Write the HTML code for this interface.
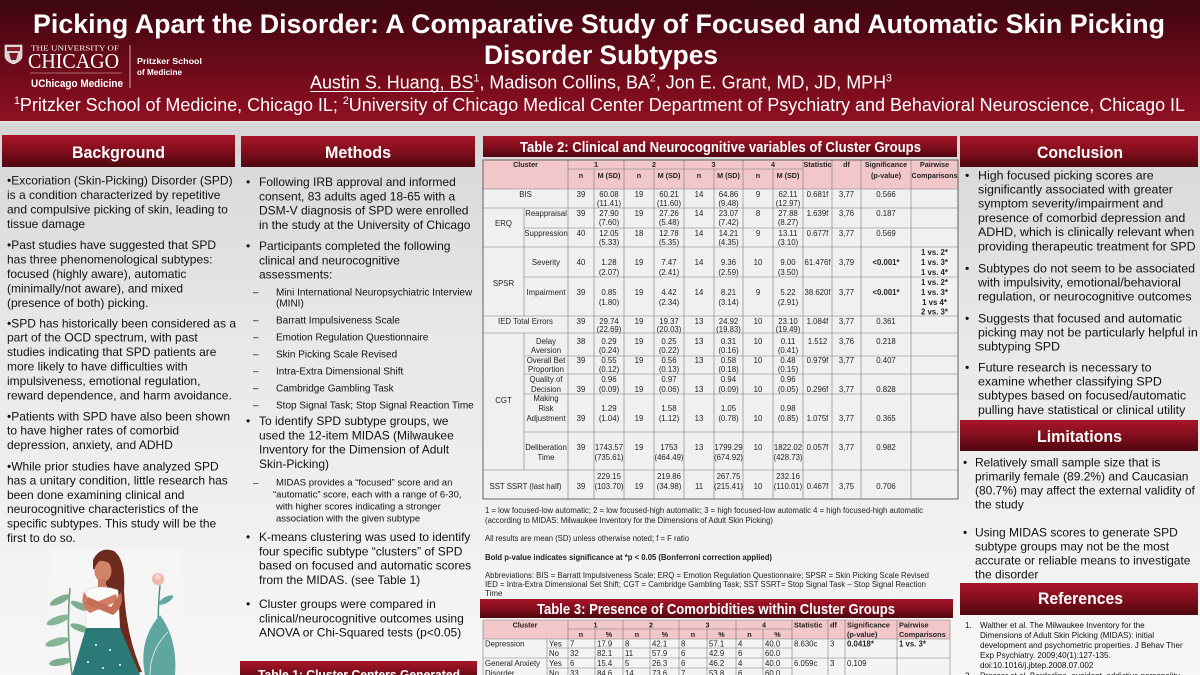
<!DOCTYPE html>
<html><head><meta charset="utf-8"><style>
html,body{margin:0;padding:0;background:#eee;}
svg{display:block;}
text{font-family:"Liberation Sans",Arial,Helvetica,sans-serif;}
.w{fill:#fff;font-weight:bold;}
.b{fill:#111;}
.tc{font-size:7.8px;text-anchor:middle;fill:#222;}
.th{font-size:7.2px;text-anchor:middle;fill:#222;font-weight:bold;}
.tl{font-size:7.8px;fill:#222;}
.h3{font-size:7.3px;fill:#222;font-weight:bold;}
.bo{font-weight:bold;}
.ln{stroke:#7a7a7a;stroke-width:0.6;}
</style></head><body>
<svg width="1200" height="675" viewBox="0 0 1200 675" xmlns="http://www.w3.org/2000/svg">
<defs>
<linearGradient id="hd" x1="0" y1="0" x2="0" y2="1"><stop offset="0" stop-color="#3c0610"/><stop offset="0.55" stop-color="#6c0a19"/><stop offset="1" stop-color="#8f1022"/></linearGradient>
<linearGradient id="bg" x1="0" y1="0" x2="0" y2="1"><stop offset="0" stop-color="#d6d6d6"/><stop offset="0.4" stop-color="#e8e8e8"/><stop offset="1" stop-color="#f7f7f7"/></linearGradient>
<linearGradient id="bar" x1="0" y1="0" x2="0" y2="1"><stop offset="0" stop-color="#a81628"/><stop offset="0.5" stop-color="#820e1d"/><stop offset="1" stop-color="#4e0710"/></linearGradient>
</defs>

<!-- backgrounds -->
<rect x="0" y="121" width="1200" height="554" fill="url(#bg)"/>
<rect x="0" y="0" width="1200" height="121" fill="url(#hd)"/>
<rect x="0" y="121" width="1200" height="2" fill="#e6dcdc"/>

<!-- header text -->
<text x="33" y="33" font-size="27" class="w" textLength="1132" lengthAdjust="spacingAndGlyphs">Picking Apart the Disorder: A Comparative Study of Focused and Automatic Skin Picking</text>
<text x="484" y="64" font-size="27" class="w" textLength="234" lengthAdjust="spacingAndGlyphs">Disorder Subtypes</text>
<text x="310" y="88.5" font-size="18.5" fill="#fff" textLength="582" lengthAdjust="spacingAndGlyphs">Austin S. Huang, BS<tspan font-size="11" dy="-7">1</tspan><tspan dy="7">, Madison Collins, BA</tspan><tspan font-size="11" dy="-7">2</tspan><tspan dy="7">, Jon E. Grant, MD, JD, MPH</tspan><tspan font-size="11" dy="-7">3</tspan></text>
<line x1="310" y1="91.5" x2="474" y2="91.5" stroke="#fff" stroke-width="1"/>
<text x="14" y="111" font-size="18.5" fill="#fff" textLength="1171" lengthAdjust="spacingAndGlyphs"><tspan font-size="11" dy="-7">1</tspan><tspan dy="7">Pritzker School of Medicine, Chicago IL; </tspan><tspan font-size="11" dy="-7">2</tspan><tspan dy="7">University of Chicago Medical Center Department of Psychiatry and Behavioral Neuroscience, Chicago IL</tspan></text>

<!-- logo -->
<path d="M5,45 L22,45 L22,56 Q22,61 13.5,64 Q5,61 5,56 Z" fill="#d9d2d2" stroke="#fff" stroke-width="0.6"/>
<rect x="7" y="47" width="13" height="4" fill="#8b1a28"/>
<path d="M9,53 L18,53 L16,60 L11,60 Z" fill="#7a1522"/>
<text x="31" y="50.5" font-size="7.5" fill="#fff" style="font-family:'Liberation Serif',serif" textLength="88" lengthAdjust="spacingAndGlyphs">THE UNIVERSITY OF</text>
<text x="28" y="68" font-size="21" fill="#fff" style="font-family:'Liberation Serif',serif" textLength="91" lengthAdjust="spacingAndGlyphs">CHICAGO</text>
<line x1="30" y1="73" x2="122" y2="73" stroke="#e8c8c8" stroke-width="0.5"/>
<text x="31" y="87" font-size="11" class="w" textLength="92" lengthAdjust="spacingAndGlyphs">UChicago Medicine</text>
<line x1="130" y1="45" x2="130" y2="88" stroke="#f0d8d8" stroke-width="0.8"/>
<text x="137" y="64" font-size="8.5" class="w" textLength="65" lengthAdjust="spacingAndGlyphs">Pritzker School</text>
<text x="137" y="75" font-size="8.5" class="w" textLength="45" lengthAdjust="spacingAndGlyphs">of Medicine</text>

<!-- section bars -->
<rect x="2" y="135" width="233" height="32" fill="url(#bar)"/>
<text x="72" y="158" font-size="17" class="w" textLength="93" lengthAdjust="spacingAndGlyphs">Background</text>
<rect x="241" y="136" width="234" height="31" fill="url(#bar)"/>
<text x="325" y="158" font-size="17" class="w" textLength="66" lengthAdjust="spacingAndGlyphs">Methods</text>
<rect x="960" y="136" width="238" height="31" fill="url(#bar)"/>
<text x="1037" y="158" font-size="17" class="w" textLength="86" lengthAdjust="spacingAndGlyphs">Conclusion</text>
<rect x="960" y="420" width="238" height="31" fill="url(#bar)"/>
<text x="1037" y="442" font-size="17" class="w" textLength="85" lengthAdjust="spacingAndGlyphs">Limitations</text>
<rect x="960" y="583" width="238" height="32" fill="url(#bar)"/>
<text x="1038" y="604" font-size="17" class="w" textLength="85" lengthAdjust="spacingAndGlyphs">References</text>
<rect x="240" y="661" width="237" height="20" fill="url(#bar)"/>
<text x="258" y="679" font-size="13" class="w" textLength="202" lengthAdjust="spacingAndGlyphs">Table 1: Cluster Centers Generated</text>
<rect x="483" y="136" width="474" height="21" fill="url(#bar)"/>
<text x="520" y="152" font-size="14.5" class="w" textLength="401" lengthAdjust="spacingAndGlyphs">Table 2: Clinical and Neurocognitive variables of Cluster Groups</text>
<rect x="480" y="599" width="473" height="19" fill="url(#bar)"/>
<text x="537" y="614" font-size="15" class="w" textLength="358" lengthAdjust="spacingAndGlyphs">Table 3: Presence of Comorbidities within Cluster Groups</text>

<!-- Background text -->
<g font-size="12" class="b">
<text y="184.3"><tspan x="7">•Excoriation (Skin-Picking) Disorder (SPD)</tspan><tspan x="7" dy="14.5">is a condition characterized by repetitive</tspan><tspan x="7" dy="14.5">and compulsive picking of skin, leading to</tspan><tspan x="7" dy="14.5">tissue damage</tspan></text>
<text y="248.8"><tspan x="7">•Past studies have suggested that SPD</tspan><tspan x="7" dy="14.5">has three phenomenological subtypes:</tspan><tspan x="7" dy="14.5">focused (highly aware), automatic</tspan><tspan x="7" dy="14.5">(minimally/not aware), and mixed</tspan><tspan x="7" dy="14.5">(presence of both) picking.</tspan></text>
<text y="327.3"><tspan x="7">•SPD has historically been considered as a</tspan><tspan x="7" dy="14.4">part of the OCD spectrum, with past</tspan><tspan x="7" dy="14.4">studies indicating that SPD patients are</tspan><tspan x="7" dy="14.4">more likely to have difficulties with</tspan><tspan x="7" dy="14.4">impulsiveness, emotional regulation,</tspan><tspan x="7" dy="14.4">reward dependence, and harm avoidance.</tspan></text>
<text y="420.3"><tspan x="7">•Patients with SPD have also been shown</tspan><tspan x="7" dy="14.3">to have higher rates of comorbid</tspan><tspan x="7" dy="14.3">depression, anxiety, and ADHD</tspan></text>
<text y="470.3"><tspan x="7">•While prior studies have analyzed SPD</tspan><tspan x="7" dy="14.3">has a unitary condition, little research has</tspan><tspan x="7" dy="14.3">been done examining clinical and</tspan><tspan x="7" dy="14.3">neurocognitive characteristics of the</tspan><tspan x="7" dy="14.3">specific subtypes. This study will be the</tspan><tspan x="7" dy="14.3">first to do so.</tspan></text>
</g>

<!-- illustration -->
<g>
<rect x="50" y="548" width="132" height="127" fill="#f5f5f5"/>
<path d="M72,675 Q66,630 70,588" stroke="#6f9f80" stroke-width="1.6" fill="none"/>
<ellipse cx="60" cy="600" rx="11" ry="3.6" transform="rotate(-25 60 600)" fill="#7fae8f"/>
<ellipse cx="80" cy="606" rx="10" ry="3.4" transform="rotate(25 80 606)" fill="#7fae8f"/>
<ellipse cx="58" cy="620" rx="12" ry="3.8" transform="rotate(-20 58 620)" fill="#86b595"/>
<ellipse cx="80" cy="628" rx="10" ry="3.4" transform="rotate(20 80 628)" fill="#7fae8f"/>
<ellipse cx="57" cy="642" rx="12" ry="3.8" transform="rotate(-15 57 642)" fill="#86b595"/>
<ellipse cx="60" cy="662" rx="11" ry="3.6" transform="rotate(-10 60 662)" fill="#7fae8f"/>
<path d="M160,675 Q156,630 160,585" stroke="#4a8f86" stroke-width="1.4" fill="none"/>
<circle cx="158" cy="579" r="6" fill="#f2b6aa"/>
<circle cx="158" cy="577" r="3" fill="#f7d3cb"/>
<ellipse cx="166" cy="600" rx="8" ry="3" transform="rotate(-30 166 600)" fill="#6aa7a0"/>
<path d="M145,675 Q138,640 160,615 Q178,640 175,675 Z" fill="#5fa6a1"/>
<path d="M150,675 Q150,650 168,632" stroke="#e8f2f0" stroke-width="0.8" fill="none"/>
<path d="M93,560 Q100,546 114,551 Q126,560 124,590 Q126,635 142,672 L126,675 Q114,640 112,605 Q108,580 93,568 Z" fill="#6e2a1c"/>
<ellipse cx="103" cy="571" rx="8.5" ry="11" fill="#d1836a"/>
<path d="M93,570 Q93,550 108,552 Q119,556 117,572 Q111,560 99,561 Z" fill="#6e2a1c"/>
<rect x="98" y="579" width="8" height="10" fill="#c97960"/>
<path d="M86,590 Q101,584 118,590 L120,630 L86,630 Z" fill="#fbfbfb" stroke="#cfcfcf" stroke-width="0.5"/>
<path d="M84,592 Q79,606 90,613 L118,601 L116,594 L92,604 Z" fill="#cf7c62"/>
<path d="M121,592 Q125,606 113,615 L86,604 L88,597 L111,607 Z" fill="#c46f56"/>
<path d="M86,628 L120,628 L140,675 L72,675 Z" fill="#2b7a77"/>
<circle cx="96" cy="645" r="1" fill="#fff"/><circle cx="110" cy="650" r="1" fill="#fff"/><circle cx="88" cy="662" r="1" fill="#fff"/><circle cx="120" cy="665" r="1" fill="#fff"/><circle cx="103" cy="668" r="1" fill="#fff"/>
</g>

<!-- Methods -->
<g font-size="12" class="b">
<text y="186"><tspan x="246">•</tspan><tspan x="259">Following IRB approval and informed</tspan><tspan x="259" dy="14.3">consent, 83 adults aged 18-65 with a</tspan><tspan x="259" dy="14.3">DSM-V diagnosis of SPD were enrolled</tspan><tspan x="259" dy="14.3">in the study at the University of Chicago</tspan></text>
<text y="250"><tspan x="246">•</tspan><tspan x="259">Participants completed the following</tspan><tspan x="259" dy="14.3">clinical and neurocognitive</tspan><tspan x="259" dy="14.3">assessments:</tspan></text>
<text y="425"><tspan x="246">•</tspan><tspan x="259">To identify SPD subtype groups, we</tspan><tspan x="259" dy="14.3">used the 12-item MIDAS (Milwaukee</tspan><tspan x="259" dy="14.3">Inventory for the Dimension of Adult</tspan><tspan x="259" dy="14.3">Skin-Picking)</tspan></text>
<text y="541"><tspan x="246">•</tspan><tspan x="259">K-means clustering was used to identify</tspan><tspan x="259" dy="14.3">four specific subtype “clusters” of SPD</tspan><tspan x="259" dy="14.3">based on focused and automatic scores</tspan><tspan x="259" dy="14.3">from the MIDAS. (see Table 1)</tspan></text>
<text y="608"><tspan x="246">•</tspan><tspan x="259">Cluster groups were compared in</tspan><tspan x="259" dy="14.3">clinical/neurocognitive outcomes using</tspan><tspan x="259" dy="14.3">ANOVA or Chi-Squared tests (p&lt;0.05)</tspan></text>
</g>
<g font-size="10" class="b">
<text y="295.5"><tspan x="253">–</tspan><tspan x="276">Mini International Neuropsychiatric Interview</tspan><tspan x="276" dy="11">(MINI)</tspan></text>
<text y="323.5"><tspan x="253">–</tspan><tspan x="276">Barratt Impulsiveness Scale</tspan></text>
<text y="340.5"><tspan x="253">–</tspan><tspan x="276">Emotion Regulation Questionnaire</tspan></text>
<text y="357.5"><tspan x="253">–</tspan><tspan x="276">Skin Picking Scale Revised</tspan></text>
<text y="374.5"><tspan x="253">–</tspan><tspan x="276">Intra-Extra Dimensional Shift</tspan></text>
<text y="391.5"><tspan x="253">–</tspan><tspan x="276">Cambridge Gambling Task</tspan></text>
<text y="408.5"><tspan x="253">–</tspan><tspan x="276">Stop Signal Task; Stop Signal Reaction Time</tspan></text>
</g>
<g font-size="9.5" class="b">
<text y="485.5"><tspan x="253">–</tspan><tspan x="276">MIDAS provides a “focused” score and an</tspan><tspan x="273" dy="12">“automatic” score, each with a range of 6-30,</tspan><tspan x="276" dy="12">with higher scores indicating a stronger</tspan><tspan x="276" dy="12">association with the given subtype</tspan></text>
</g>

<!-- Conclusion -->
<g font-size="12.4" class="b">
<text y="179.3"><tspan x="965">•</tspan><tspan x="978">High focused picking scores are</tspan><tspan x="978" dy="14.2">significantly associated with greater</tspan><tspan x="978" dy="14.2">symptom severity/impairment and</tspan><tspan x="978" dy="14.2">presence of comorbid depression and</tspan><tspan x="978" dy="14.2">ADHD, which is clinically relevant when</tspan><tspan x="978" dy="14.2">providing therapeutic treatment for SPD</tspan></text>
<text y="272.3"><tspan x="965">•</tspan><tspan x="978">Subtypes do not seem to be associated</tspan><tspan x="978" dy="14.2">with impulsivity, emotional/behavioral</tspan><tspan x="978" dy="14.2">regulation, or neurocognitive outcomes</tspan></text>
<text y="322.3"><tspan x="965">•</tspan><tspan x="978">Suggests that focused and automatic</tspan><tspan x="978" dy="14.2">picking may not be particularly helpful in</tspan><tspan x="978" dy="14.2">subtyping SPD</tspan></text>
<text y="371.3"><tspan x="965">•</tspan><tspan x="978">Future research is necessary to</tspan><tspan x="978" dy="14.2">examine whether classifying SPD</tspan><tspan x="978" dy="14.2">subtypes based on focused/automatic</tspan><tspan x="978" dy="14.2">pulling have statistical or clinical utility</tspan></text>
</g>

<!-- Limitations -->
<g font-size="12" class="b">
<text y="466.3"><tspan x="963">•</tspan><tspan x="975">Relatively small sample size that is</tspan><tspan x="975" dy="14">primarily female (89.2%) and Caucasian</tspan><tspan x="975" dy="14">(80.7%) may affect the external validity of</tspan><tspan x="975" dy="14">the study</tspan></text>
<text y="536.3"><tspan x="963">•</tspan><tspan x="975">Using MIDAS scores to generate SPD</tspan><tspan x="975" dy="14">subtype groups may not be the most</tspan><tspan x="975" dy="14">accurate or reliable means to investigate</tspan><tspan x="975" dy="14">the disorder</tspan></text>
</g>

<!-- References -->
<g font-size="8.1" class="b">
<text y="628"><tspan x="965">1.</tspan><tspan x="980">Walther et al. The Milwaukee Inventory for the</tspan><tspan x="980" dy="10">Dimensions of Adult Skin Picking (MIDAS): initial</tspan><tspan x="980" dy="10">development and psychometric properties. J Behav Ther</tspan><tspan x="980" dy="10">Exp Psychiatry. 2009;40(1):127-135.</tspan><tspan x="980" dy="10">doi:10.1016/j.jbtep.2008.07.002</tspan></text>
<text y="678.5"><tspan x="965">2.</tspan><tspan x="980">Prosser et al. Borderline, avoidant, addictive personality</tspan></text>
</g>

<!-- TABLE 2 -->
<rect x="483" y="160" width="475" height="29" fill="#f1c7ca"/>
<rect x="483" y="189" width="475" height="310" fill="#f0f0f0"/>
<g class="ln">
<line x1="568" y1="169" x2="803" y2="169"/>
<line x1="483" y1="189" x2="958" y2="189"/>
<line x1="483" y1="208" x2="958" y2="208"/>
<line x1="524" y1="228" x2="958" y2="228"/>
<line x1="483" y1="247" x2="958" y2="247"/>
<line x1="524" y1="277" x2="958" y2="277"/>
<line x1="483" y1="316" x2="958" y2="316"/>
<line x1="483" y1="333" x2="958" y2="333"/>
<line x1="524" y1="356" x2="958" y2="356"/>
<line x1="524" y1="374" x2="958" y2="374"/>
<line x1="524" y1="394" x2="958" y2="394"/>
<line x1="524" y1="432" x2="958" y2="432"/>
<line x1="483" y1="470" x2="958" y2="470"/>
<line x1="524" y1="208" x2="524" y2="316"/>
<line x1="524" y1="333" x2="524" y2="470"/>
<line x1="568" y1="160" x2="568" y2="499"/>
<line x1="594" y1="169" x2="594" y2="499"/>
<line x1="624" y1="160" x2="624" y2="499"/>
<line x1="654" y1="169" x2="654" y2="499"/>
<line x1="684" y1="160" x2="684" y2="499"/>
<line x1="714" y1="169" x2="714" y2="499"/>
<line x1="743" y1="160" x2="743" y2="499"/>
<line x1="773" y1="169" x2="773" y2="499"/>
<line x1="803" y1="160" x2="803" y2="499"/>
<line x1="832" y1="160" x2="832" y2="499"/>
<line x1="861" y1="160" x2="861" y2="499"/>
<line x1="911" y1="160" x2="911" y2="499"/>
</g>
<rect x="483" y="160" width="475" height="339" fill="none" stroke="#555" stroke-width="0.9"/>

<text class="th" x="525.5" y="167">Cluster</text>
<text class="th" x="596" y="167">1</text>
<text class="th" x="654" y="167">2</text>
<text class="th" x="713.5" y="167">3</text>
<text class="th" x="773" y="167">4</text>
<text class="th" x="817.5" y="167">Statistic</text>
<text class="th" x="846.5" y="167">df</text>
<text class="th" x="886" y="167">Significance</text>
<text class="th" x="934.5" y="167">Pairwise</text>
<text class="th" x="581" y="178">n</text><text class="th" x="609" y="178">M (SD)</text>
<text class="th" x="639" y="178">n</text><text class="th" x="669" y="178">M (SD)</text>
<text class="th" x="699" y="178">n</text><text class="th" x="728.5" y="178">M (SD)</text>
<text class="th" x="758" y="178">n</text><text class="th" x="788" y="178">M (SD)</text>
<text class="th" x="886" y="178">(p-value)</text>
<text class="th" x="934.5" y="178">Comparisons</text>

<g class="tc">
<text x="525.5" y="197">BIS</text>
<text x="581" y="197">39</text><text x="609" y="197">60.08</text><text x="609" y="206">(11.41)</text>
<text x="639" y="197">19</text><text x="669" y="197">60.21</text><text x="669" y="206">(11.60)</text>
<text x="699" y="197">14</text><text x="728.5" y="197">64.86</text><text x="728.5" y="206">(9.48)</text>
<text x="758" y="197">9</text><text x="788" y="197">62.11</text><text x="788" y="206">(12.97)</text>
<text x="817.5" y="197">0.681f</text><text x="846.5" y="197">3,77</text><text x="886" y="197">0.566</text>
<text x="503.5" y="226">ERQ</text>
<text x="546" y="216">Reappraisal</text>
<text x="581" y="216">39</text><text x="609" y="216">27.90</text><text x="609" y="225">(7.60)</text>
<text x="639" y="216">19</text><text x="669" y="216">27.26</text><text x="669" y="225">(5.48)</text>
<text x="699" y="216">14</text><text x="728.5" y="216">23.07</text><text x="728.5" y="225">(7.42)</text>
<text x="758" y="216">8</text><text x="788" y="216">27.88</text><text x="788" y="225">(8.27)</text>
<text x="817.5" y="216">1.639f</text><text x="846.5" y="216">3,76</text><text x="886" y="216">0.187</text>
<text x="546" y="236">Suppression</text>
<text x="581" y="236">40</text><text x="609" y="236">12.05</text><text x="609" y="245">(5.33)</text>
<text x="639" y="236">18</text><text x="669" y="236">12.78</text><text x="669" y="245">(5.35)</text>
<text x="699" y="236">14</text><text x="728.5" y="236">14.21</text><text x="728.5" y="245">(4.35)</text>
<text x="758" y="236">9</text><text x="788" y="236">13.11</text><text x="788" y="245">(3.10)</text>
<text x="817.5" y="236">0.677f</text><text x="846.5" y="236">3,77</text><text x="886" y="236">0.569</text>
<text x="503.5" y="286">SPSR</text>
<text x="546" y="265">Severity</text>
<text x="581" y="265">40</text><text x="609" y="265">1.28</text><text x="609" y="275">(2.07)</text>
<text x="639" y="265">19</text><text x="669" y="265">7.47</text><text x="669" y="275">(2.41)</text>
<text x="699" y="265">14</text><text x="728.5" y="265">9.36</text><text x="728.5" y="275">(2.59)</text>
<text x="758" y="265">10</text><text x="788" y="265">9.00</text><text x="788" y="275">(3.50)</text>
<text x="817.5" y="265">61.476f</text><text x="846.5" y="265">3,79</text><text x="886" y="265" class="bo">&lt;0.001*</text>
<text x="934.5" y="255" class="bo">1 vs. 2*</text><text x="934.5" y="265" class="bo">1 vs. 3*</text><text x="934.5" y="275" class="bo">1 vs. 4*</text>
<text x="546" y="295">Impairment</text>
<text x="581" y="295">39</text><text x="609" y="295">0.85</text><text x="609" y="305">(1.80)</text>
<text x="639" y="295">19</text><text x="669" y="295">4.42</text><text x="669" y="305">(2.34)</text>
<text x="699" y="295">14</text><text x="728.5" y="295">8.21</text><text x="728.5" y="305">(3.14)</text>
<text x="758" y="295">9</text><text x="788" y="295">5.22</text><text x="788" y="305">(2.91)</text>
<text x="817.5" y="295">38.620f</text><text x="846.5" y="295">3,77</text><text x="886" y="295" class="bo">&lt;0.001*</text>
<text x="934.5" y="285" class="bo">1 vs. 2*</text><text x="934.5" y="295" class="bo">1 vs. 3*</text><text x="934.5" y="305" class="bo">1 vs 4*</text><text x="934.5" y="314.5" class="bo">2 vs. 3*</text>
<text x="525.5" y="324">IED Total Errors</text>
<text x="581" y="324">39</text><text x="609" y="324">29.74</text><text x="609" y="332">(22.69)</text>
<text x="639" y="324">19</text><text x="669" y="324">19.37</text><text x="669" y="332">(20.03)</text>
<text x="699" y="324">13</text><text x="728.5" y="324">24.92</text><text x="728.5" y="332">(19.83)</text>
<text x="758" y="324">10</text><text x="788" y="324">23.10</text><text x="788" y="332">(19.49)</text>
<text x="817.5" y="324">1.084f</text><text x="846.5" y="324">3,77</text><text x="886" y="324">0.361</text>
<text x="503.5" y="403">CGT</text>
<text x="546" y="344">Delay</text><text x="546" y="353">Aversion</text>
<text x="581" y="344">38</text><text x="609" y="344">0.29</text><text x="609" y="353">(0.24)</text>
<text x="639" y="344">19</text><text x="669" y="344">0.25</text><text x="669" y="353">(0.22)</text>
<text x="699" y="344">13</text><text x="728.5" y="344">0.31</text><text x="728.5" y="353">(0.16)</text>
<text x="758" y="344">10</text><text x="788" y="344">0.11</text><text x="788" y="353">(0.41)</text>
<text x="817.5" y="344">1.512</text><text x="846.5" y="344">3,76</text><text x="886" y="344">0.218</text>
<text x="546" y="363">Overall Bet</text><text x="546" y="372">Proportion</text>
<text x="581" y="363">39</text><text x="609" y="363">0.55</text><text x="609" y="372">(0.12)</text>
<text x="639" y="363">19</text><text x="669" y="363">0.56</text><text x="669" y="372">(0.13)</text>
<text x="699" y="363">13</text><text x="728.5" y="363">0.58</text><text x="728.5" y="372">(0.18)</text>
<text x="758" y="363">10</text><text x="788" y="363">0.48</text><text x="788" y="372">(0.15)</text>
<text x="817.5" y="363">0.979f</text><text x="846.5" y="363">3,77</text><text x="886" y="363">0.407</text>
<text x="546" y="382">Quality of</text><text x="546" y="392">Decision</text><text x="546" y="401">Making</text>
<text x="581" y="392">39</text><text x="609" y="382">0.96</text><text x="609" y="392">(0.09)</text>
<text x="639" y="392">19</text><text x="669" y="382">0.97</text><text x="669" y="392">(0.06)</text>
<text x="699" y="392">13</text><text x="728.5" y="382">0.94</text><text x="728.5" y="392">(0.09)</text>
<text x="758" y="392">10</text><text x="788" y="382">0.96</text><text x="788" y="392">(0.05)</text>
<text x="817.5" y="392">0.296f</text><text x="846.5" y="392">3,77</text><text x="886" y="392">0.828</text>
<text x="546" y="411">Risk</text><text x="546" y="421">Adjustment</text>
<text x="581" y="421">39</text><text x="609" y="411">1.29</text><text x="609" y="421">(1.04)</text>
<text x="639" y="421">19</text><text x="669" y="411">1.58</text><text x="669" y="421">(1.12)</text>
<text x="699" y="421">13</text><text x="728.5" y="411">1.05</text><text x="728.5" y="421">(0.78)</text>
<text x="758" y="421">10</text><text x="788" y="411">0.98</text><text x="788" y="421">(0.85)</text>
<text x="817.5" y="421">1.075f</text><text x="846.5" y="421">3,77</text><text x="886" y="421">0.365</text>
<text x="546" y="450">Deliberation</text><text x="546" y="460">Time</text>
<text x="581" y="450">39</text><text x="609" y="450">1743.57</text><text x="609" y="460">(735.61)</text>
<text x="639" y="450">19</text><text x="669" y="450">1753</text><text x="669" y="460">(464.49)</text>
<text x="699" y="450">13</text><text x="728.5" y="450">1799.29</text><text x="728.5" y="460">(674.92)</text>
<text x="758" y="450">10</text><text x="788" y="450">1822.02</text><text x="788" y="460">(428.73)</text>
<text x="817.5" y="450">0.057f</text><text x="846.5" y="450">3,77</text><text x="886" y="450">0.982</text>
<text x="525.5" y="489">SST SSRT (last half)</text>
<text x="581" y="489">39</text><text x="609" y="479">229.15</text><text x="609" y="489">(103.70)</text>
<text x="639" y="489">19</text><text x="669" y="479">219.86</text><text x="669" y="489">(34.98)</text>
<text x="699" y="489">11</text><text x="728.5" y="479">267.75</text><text x="728.5" y="489">(215.41)</text>
<text x="758" y="489">10</text><text x="788" y="479">232.16</text><text x="788" y="489">(110.01)</text>
<text x="817.5" y="489">0.467f</text><text x="846.5" y="489">3,75</text><text x="886" y="489">0.706</text>
</g>

<!-- footnotes -->
<g font-size="8" fill="#222">
<text x="485" y="513" textLength="438" lengthAdjust="spacingAndGlyphs">1 = low focused-low automatic; 2 = low focused-high automatic; 3 = high focused-low automatic 4 = high focused-high automatic</text>
<text x="485" y="523" textLength="288" lengthAdjust="spacingAndGlyphs">(according to MIDAS: Milwaukee Inventory for the Dimensions of Adult Skin Picking)</text>
<text x="485" y="541" textLength="204" lengthAdjust="spacingAndGlyphs">All results are mean (SD) unless otherwise noted; f = F ratio</text>
<text x="485" y="560" textLength="287" lengthAdjust="spacingAndGlyphs" font-weight="bold">Bold p-value indicates significance at *p &lt; 0.05 (Bonferroni correction applied)</text>
<text x="485" y="578" textLength="444" lengthAdjust="spacingAndGlyphs">Abbreviations: BIS = Barratt Impulsiveness Scale; ERQ = Emotion Regulation Questionnaire; SPSR = Skin Picking Scale Revised</text>
<text x="485" y="587" textLength="441" lengthAdjust="spacingAndGlyphs">IED = Intra-Extra Dimensional Set Shift; CGT = Cambridge Gambling Task; SST SSRT= Stop Signal Task – Stop Signal Reaction</text>
<text x="485" y="596">Time</text>
</g>

<!-- TABLE 3 -->
<rect x="483" y="620" width="467" height="19" fill="#f3c6c9"/>
<rect x="483" y="639" width="467" height="36" fill="#f4f4f4"/>
<g class="ln">
<line x1="483" y1="620" x2="950" y2="620"/>
<line x1="568" y1="629" x2="792" y2="629"/>
<line x1="483" y1="639" x2="950" y2="639"/>
<line x1="547" y1="648" x2="792" y2="648"/>
<line x1="483" y1="658" x2="950" y2="658"/>
<line x1="547" y1="668" x2="792" y2="668"/>
<line x1="483" y1="620" x2="483" y2="675"/>
<line x1="950" y1="620" x2="950" y2="675"/>
<line x1="547" y1="639" x2="547" y2="675"/>
<line x1="568" y1="620" x2="568" y2="675"/>
<line x1="595" y1="629" x2="595" y2="675"/>
<line x1="623" y1="620" x2="623" y2="675"/>
<line x1="650" y1="629" x2="650" y2="675"/>
<line x1="679" y1="620" x2="679" y2="675"/>
<line x1="707" y1="629" x2="707" y2="675"/>
<line x1="736" y1="620" x2="736" y2="675"/>
<line x1="763" y1="629" x2="763" y2="675"/>
<line x1="792" y1="620" x2="792" y2="675"/>
<line x1="828" y1="620" x2="828" y2="675"/>
<line x1="845" y1="620" x2="845" y2="675"/>
<line x1="897" y1="620" x2="897" y2="675"/>
</g>
<text class="th" x="525" y="627.5">Cluster</text>
<text class="th" x="595.5" y="627.5">1</text>
<text class="th" x="651" y="627.5">2</text>
<text class="th" x="707.5" y="627.5">3</text>
<text class="th" x="764" y="627.5">4</text>
<text class="h3" x="794" y="627.5">Statistic</text>
<text class="h3" x="830" y="627.5">df</text>
<text class="h3" x="847" y="627.5">Significance</text>
<text class="h3" x="899" y="627.5">Pairwise</text>
<text class="th" x="581" y="637">n</text><text class="th" x="609" y="637">%</text>
<text class="th" x="637" y="637">n</text><text class="th" x="665" y="637">%</text>
<text class="th" x="693" y="637">n</text><text class="th" x="721.5" y="637">%</text>
<text class="th" x="749.5" y="637">n</text><text class="th" x="777.5" y="637">%</text>
<text class="h3" x="847" y="637">(p-value)</text>
<text class="h3" x="899" y="637">Comparisons</text>
<g class="tl">
<text x="485" y="646.5">Depression</text>
<text x="549" y="646.5">Yes</text><text x="570" y="646.5">7</text><text x="597" y="646.5">17.9</text><text x="625" y="646.5">8</text><text x="652" y="646.5">42.1</text><text x="681" y="646.5">8</text><text x="709" y="646.5">57.1</text><text x="738" y="646.5">4</text><text x="765" y="646.5">40.0</text>
<text x="794" y="646.5">8.630c</text><text x="830" y="646.5">3</text><text x="847" y="646.5" class="bo">0.0418*</text><text x="899" y="646.5" class="bo">1 vs. 3*</text>
<text x="549" y="656">No</text><text x="570" y="656">32</text><text x="597" y="656">82.1</text><text x="625" y="656">11</text><text x="652" y="656">57.9</text><text x="681" y="656">6</text><text x="709" y="656">42.9</text><text x="738" y="656">6</text><text x="765" y="656">60.0</text>
<text x="485" y="666">General Anxiety</text>
<text x="549" y="666">Yes</text><text x="570" y="666">6</text><text x="597" y="666">15.4</text><text x="625" y="666">5</text><text x="652" y="666">26.3</text><text x="681" y="666">6</text><text x="709" y="666">46.2</text><text x="738" y="666">4</text><text x="765" y="666">40.0</text>
<text x="794" y="666">6.059c</text><text x="830" y="666">3</text><text x="847" y="666">0.109</text>
<text x="485" y="676">Disorder</text>
<text x="549" y="676">No</text><text x="570" y="676">33</text><text x="597" y="676">84.6</text><text x="625" y="676">14</text><text x="652" y="676">73.6</text><text x="681" y="676">7</text><text x="709" y="676">53.8</text><text x="738" y="676">6</text><text x="765" y="676">60.0</text>
</g>
</svg>
</body></html>
